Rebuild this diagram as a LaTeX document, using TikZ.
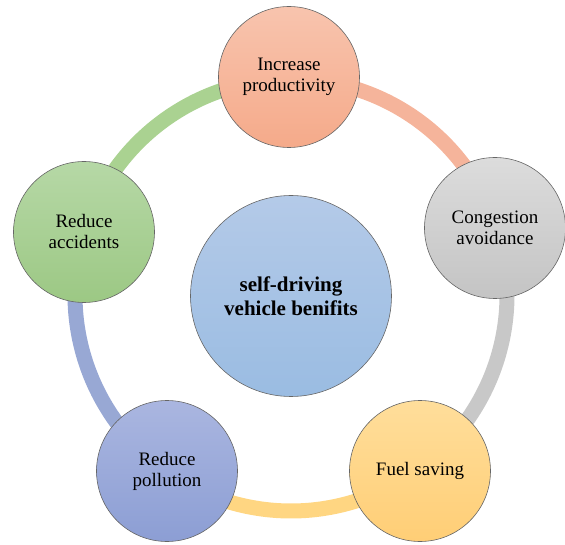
\documentclass[tikz,border=0pt]{standalone}
\usepackage{fontspec}
\setmainfont{Liberation Serif}
\definecolor{salA}{RGB}{248,196,174}
\definecolor{salB}{RGB}{245,170,138}
\definecolor{salR}{RGB}{245,180,155}
\definecolor{gryA}{RGB}{220,220,220}
\definecolor{gryB}{RGB}{196,196,196}
\definecolor{gryR}{RGB}{200,200,200}
\definecolor{yelA}{RGB}{255,222,155}
\definecolor{yelB}{RGB}{255,206,118}
\definecolor{yelR}{RGB}{255,214,130}
\definecolor{bluA}{RGB}{170,182,224}
\definecolor{bluB}{RGB}{140,158,212}
\definecolor{bluR}{RGB}{152,168,212}
\definecolor{grnA}{RGB}{182,216,166}
\definecolor{grnB}{RGB}{156,200,132}
\definecolor{grnR}{RGB}{170,210,145}
\definecolor{cenA}{RGB}{180,202,232}
\definecolor{cenB}{RGB}{154,188,226}
\begin{document}
\begin{tikzpicture}[x=1pt,y=1pt,
  bub/.style={circle, draw=black!60, line width=0.6pt, minimum size=141pt, inner sep=0pt, align=center, font=\fontsize{19}{21}\selectfont},
  ringseg/.style={line width=15pt}]
\useasboundingbox (0,0) rectangle (565,544);
\coordinate (rc) at (291,249);
% ring segments
\draw[ringseg, salR] ([shift={(90:216)}]rc) arc[start angle=90, end angle=18, radius=216];
\draw[ringseg, gryR] ([shift={(18:216)}]rc) arc[start angle=18, end angle=-54, radius=216];
\draw[ringseg, yelR] ([shift={(-54:216)}]rc) arc[start angle=-54, end angle=-126, radius=216];
\draw[ringseg, bluR] ([shift={(-126:216)}]rc) arc[start angle=-126, end angle=-198, radius=216];
\draw[ringseg, grnR] ([shift={(162:216)}]rc) arc[start angle=162, end angle=90, radius=216];
% circles
\node[bub, top color=salA, bottom color=salB] (prod) at (289,467) {Increase\\productivity};
\node[bub, top color=gryA, bottom color=gryB] (cong) at (495,316) {Congestion\\avoidance};
\node[bub, top color=yelA, bottom color=yelB] (fuel) at (420,73) {Fuel saving};
\node[bub, top color=bluA, bottom color=bluB] (poll) at (167,73) {Reduce\\pollution};
\node[bub, top color=grnA, bottom color=grnB] (acc) at (84,312) {Reduce\\accidents};
\node[bub, minimum size=201pt, top color=cenA, bottom color=cenB, font=\bfseries\fontsize{21}{24}\selectfont] (cen) at (291,248) {self-driving\\vehicle benifits};
\end{tikzpicture}
\end{document}
